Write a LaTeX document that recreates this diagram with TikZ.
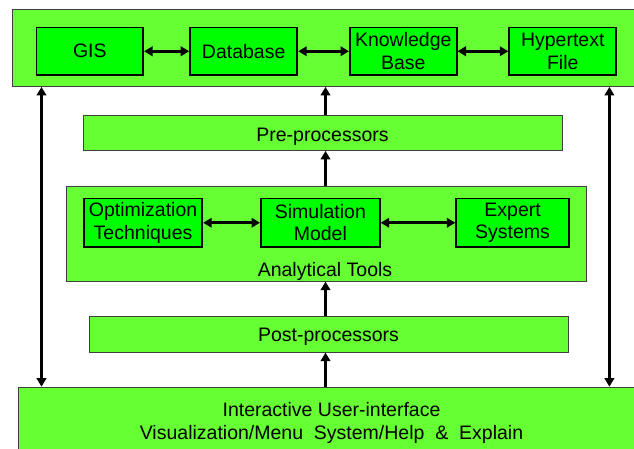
\documentclass[tikz,border=0pt]{standalone}
\usepackage{fontspec}
\setmainfont{Liberation Sans}
\usetikzlibrary{arrows.meta}
\definecolor{outgreen}{HTML}{66FF33}
\definecolor{ingreen}{HTML}{00FF00}
\begin{document}
\begin{tikzpicture}[x=1pt,y=-1pt,
  outbox/.style={draw=black!75, line width=0.9pt, fill=outgreen, anchor=north west, inner sep=0pt},
  inbox/.style={draw=black, line width=1.8pt, fill=ingreen, anchor=north west, inner sep=0pt, align=center,
     font=\fontsize{19.5}{22.5}\selectfont},
  txt/.style={font=\fontsize{19.5}{23.3}\selectfont, align=center, inner sep=0pt, anchor=base},
  arr/.style={line width=2.6pt, -{Triangle[length=8.5pt,width=9.5pt]}},
  darr/.style={line width=2.6pt, {Triangle[length=8.5pt,width=9.5pt]}-{Triangle[length=8.5pt,width=9.5pt]}}]
\useasboundingbox (0,0) rectangle (634,449);
\clip (0,0) rectangle (634,449);
\fill[white] (0,0) rectangle (634,449);
% top box
\node[outbox, minimum width=640pt, minimum height=76.7pt] (top) at (12,9.3) {};
\node[inbox, minimum width=106.7pt, minimum height=47.3pt] (gis) at (35.6,26.7) {GIS};
\node[inbox, minimum width=107.2pt, minimum height=47.3pt] (db) at (189.2,26.7) {Database};
\node[inbox, minimum width=106.7pt, minimum height=47.3pt] (kb) at (349,26.7) {Knowledge\\Base};
\node[inbox, minimum width=107.1pt, minimum height=47.3pt] (ht) at (508.3,26.7) {Hypertext\\File};
\draw[darr] (gis.east) -- (db.west);
\draw[darr] (db.east) -- (kb.west);
\draw[darr] (kb.east) -- (ht.west);
% pre-processors
\node[outbox, minimum width=479.1pt, minimum height=35pt] (pre) at (82.9,115) {};
\node[txt] (pretxt) at (322.5,141.5) {Pre-processors};
% analytical tools
\node[outbox, minimum width=520.5pt, minimum height=94.7pt] (anal) at (65.5,186) {};
\node[inbox, minimum width=118.5pt, minimum height=48.3pt] (opt) at (82.9,197.7) {Optimization\\Techniques};
\node[inbox, minimum width=118.9pt, minimum height=48.3pt] (sim) at (260,197.7) {Simulation\\Model};
\node[inbox, minimum width=112.8pt, minimum height=48.3pt] (exp) at (455.3,197.7) {Expert\\Systems};
\node[txt] (analtxt) at (325,276) {Analytical Tools};
\draw[darr] (opt.east) -- (sim.west);
\draw[darr] (sim.east) -- (exp.west);
% post-processors
\node[outbox, minimum width=479.5pt, minimum height=35.7pt] (post) at (88.6,316) {};
\node[txt] (posttxt) at (328.5,341) {Post-processors};
% bottom box
\node[outbox, minimum width=640pt, minimum height=80pt] (bot) at (18.2,386.7) {};
\node[txt] (bottxt) at (331.5,439.3) {Interactive User-interface\\Visualization/Menu\ \ System/Help\ \ \&\ \ Explain};
% vertical connectors
\coordinate (lx) at (41.5,0);
\coordinate (rx) at (609.4,0);
\coordinate (mx) at (325.5,0);
\draw[darr] (top.south -| lx) -- (bot.north -| lx);
\draw[darr] (top.south -| rx) -- (bot.north -| rx);
\draw[arr] (pre.north -| mx) -- (top.south -| mx);
\draw[arr] (anal.north -| mx) -- (pre.south -| mx);
\draw[arr] (post.north -| mx) -- (anal.south -| mx);
\draw[arr] (bot.north -| mx) -- (post.south -| mx);
\end{tikzpicture}
\end{document}
